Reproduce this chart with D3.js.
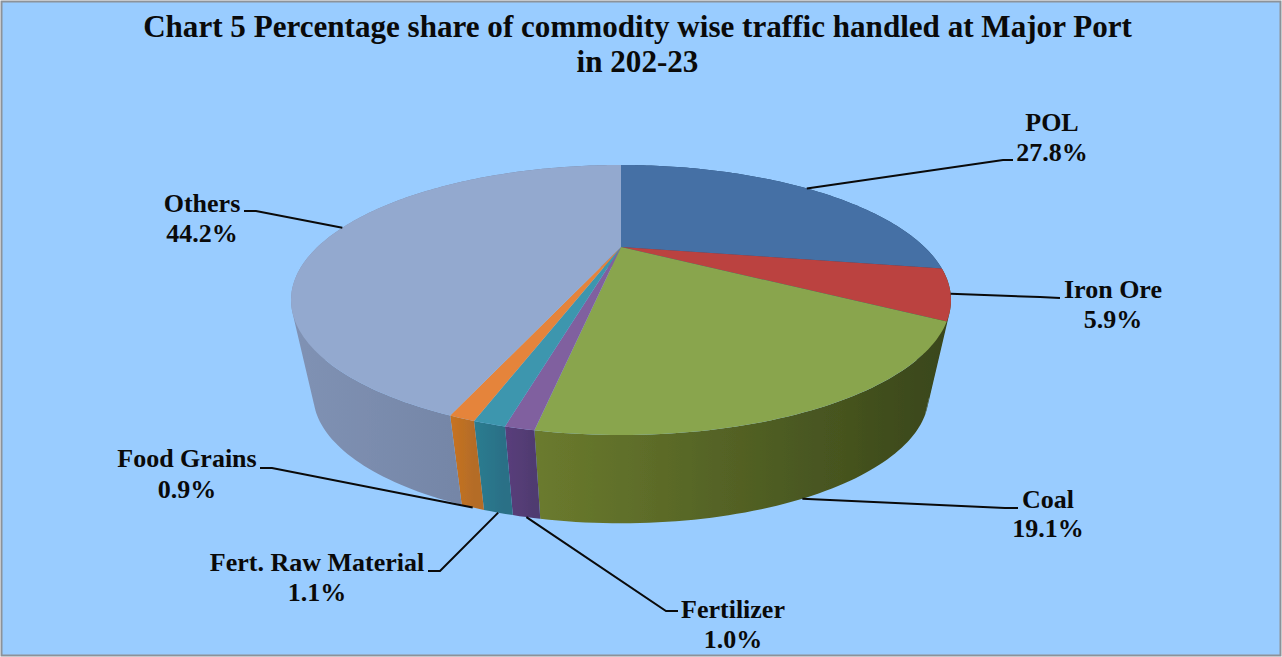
<!DOCTYPE html>
<html>
<head>
<meta charset="utf-8">
<script src="https://cdn.jsdelivr.net/npm/d3@7"></script>
<style>
  html, body { margin: 0; padding: 0; background: #fff; overflow: hidden; }
  text { font-family: "Liberation Serif", serif; font-weight: bold; fill: #0a0a0a; }
</style>
</head>
<body>
<div id="chart"></div>
<script>
// Chart data
const categories = ['POL', 'Iron Ore', 'Coal', 'Fertilizer', 'Fert. Raw Material', 'Food Grains', 'Others'];
const shares = [27.8, 5.9, 19.1, 1.0, 1.1, 0.9, 44.2];
const titleLines = ['Chart 5 Percentage share of commodity wise traffic handled at Major Port', 'in 202-23'];

// Colours per slice
const topColors = ['#4470a5', '#bb4340', '#89a54e', '#80609f', '#3d96ae', '#e5843a', '#93a9cf'];
// the iron ore wall only shows as a dark edge on the right, so it shares the coal shadow
const sideLeft = ['#2f5077', '#39461a', '#6b7b2e', '#5a3f7c', '#2c7d90', '#c8731f', '#8092b4'];
const sideRight = ['#2a4768', '#39461a', '#39461a', '#4f3a70', '#296f86', '#b46c28', '#6a7a9a'];

const width = 1282, height = 657;

// Perspective disc: top face and the (smaller) bottom face of the 3D pie
const cx = 621, tilt = 0.3926;
const topFace = { r: 303.5, y0: 247, a: 114.2 };
const bottomFace = { r: 283, y0: 345, a: 108.3 };

function project(face, angle) {
  const u = Math.sin(angle), v = -Math.cos(angle);
  const k = 1 - tilt * v;
  return [cx + face.r * u / k, face.y0 + face.a * v / k];
}

// Label placement: text centre, baselines, leader elbow and end, rim the leader starts on
const labelLayout = [
  { x: 1052, y: 131, y2: 161, elbow: [1003, 160], end: [1013, 160], face: topFace },
  { x: 1113, y: 298, y2: 328, elbow: [1040, 297], end: [1060, 298], face: topFace },
  { x: 1048, y: 508, y2: 537, elbow: [1005, 508], end: [1018, 508], face: bottomFace },
  { x: 733, y: 618, y2: 648, elbow: [666, 611], end: [678, 611], face: bottomFace },
  { x: 317, y: 571, y2: 601, elbow: [440, 571], end: [428, 571], face: bottomFace },
  { x: 187, y: 467, y2: 498, elbow: [272, 468], end: [260, 468], face: bottomFace },
  { x: 202, y: 212, y2: 242, elbow: [256, 211], end: [244, 211], face: topFace }
];

const svg = d3.select('#chart').append('svg')
  .attr('width', width)
  .attr('height', height)
  .attr('viewBox', `0 0 ${width} ${height}`)
  .style('display', 'block');

// Background with grey border
svg.append('rect')
  .attr('x', 1.5).attr('y', 1.5)
  .attr('width', width - 3).attr('height', height - 3)
  .attr('fill', '#99ccff')
  .attr('stroke', '#8c9299')
  .attr('stroke-width', 2);

const defs = svg.append('defs');
const blur = defs.append('filter').attr('id', 'soft');
blur.append('feGaussianBlur').attr('stdDeviation', 0.7);

// Slices, clockwise from 12 o'clock
const pie = d3.pie().sort(null).value(d => d.share);
const rows = categories.map((name, i) => ({ name, share: shares[i], i }));
const arcs = pie(rows);

const line = d3.line();

function rimPoints(face, a0, a1) {
  const n = Math.max(2, Math.ceil((a1 - a0) / 0.02));
  return d3.range(n + 1).map(k => project(face, a0 + (a1 - a0) * k / n));
}

// Side wall gradients
arcs.forEach(d => {
  const i = d.data.i;
  const xs = rimPoints(topFace, d.startAngle, d.endAngle).map(p => p[0]);
  const grad = defs.append('linearGradient')
    .attr('id', `side${i}`)
    .attr('gradientUnits', 'userSpaceOnUse')
    .attr('x1', d3.min(xs)).attr('y1', 0)
    .attr('x2', d3.max(xs)).attr('y2', 0);
  grad.append('stop').attr('offset', 0).attr('stop-color', sideLeft[i]);
  grad.append('stop').attr('offset', 1).attr('stop-color', sideRight[i]);
});

const pieGroup = svg.append('g').attr('filter', 'url(#soft)');

// Side walls first: quads with the same winding in one path, so nothing cancels and no seams show
arcs.forEach(d => {
  const topRim = rimPoints(topFace, d.startAngle, d.endAngle);
  const bottomRim = rimPoints(bottomFace, d.startAngle, d.endAngle);
  const wall = d3.range(topRim.length - 1).map(k => {
    const quad = [topRim[k], topRim[k + 1], bottomRim[k + 1], bottomRim[k]];
    if (d3.polygonArea(quad) < 0) quad.reverse();
    return line(quad) + 'Z';
  }).join('');
  pieGroup.append('path')
    .attr('d', wall)
    .attr('fill', `url(#side${d.data.i})`);
});

// Top faces
arcs.forEach(d => {
  const rim = rimPoints(topFace, d.startAngle, d.endAngle);
  pieGroup.append('path')
    .attr('d', line([[cx, topFace.y0], ...rim]) + 'Z')
    .attr('fill', topColors[d.data.i]);
});

// Leader lines
arcs.forEach((d, i) => {
  const l = labelLayout[i];
  const start = project(l.face, (d.startAngle + d.endAngle) / 2);
  svg.append('path')
    .attr('d', line([start, l.elbow, l.end]))
    .attr('fill', 'none')
    .attr('stroke', '#0a0a0a')
    .attr('stroke-width', 2);
});

// Labels
arcs.forEach((d, i) => {
  const l = labelLayout[i];
  svg.append('text')
    .attr('x', l.x).attr('y', l.y)
    .attr('text-anchor', 'middle')
    .attr('font-size', 26)
    .text(d.data.name);
  svg.append('text')
    .attr('x', l.x).attr('y', l.y2)
    .attr('text-anchor', 'middle')
    .attr('font-size', 26)
    .text(`${d3.format('.1f')(d.data.share)}%`);
});

// Title
titleLines.forEach((t, i) => {
  svg.append('text')
    .attr('x', 637.5)
    .attr('y', 37 + i * 35)
    .attr('text-anchor', 'middle')
    .attr('font-size', 31.1)
    .text(t);
});
</script>
</body>
</html>
